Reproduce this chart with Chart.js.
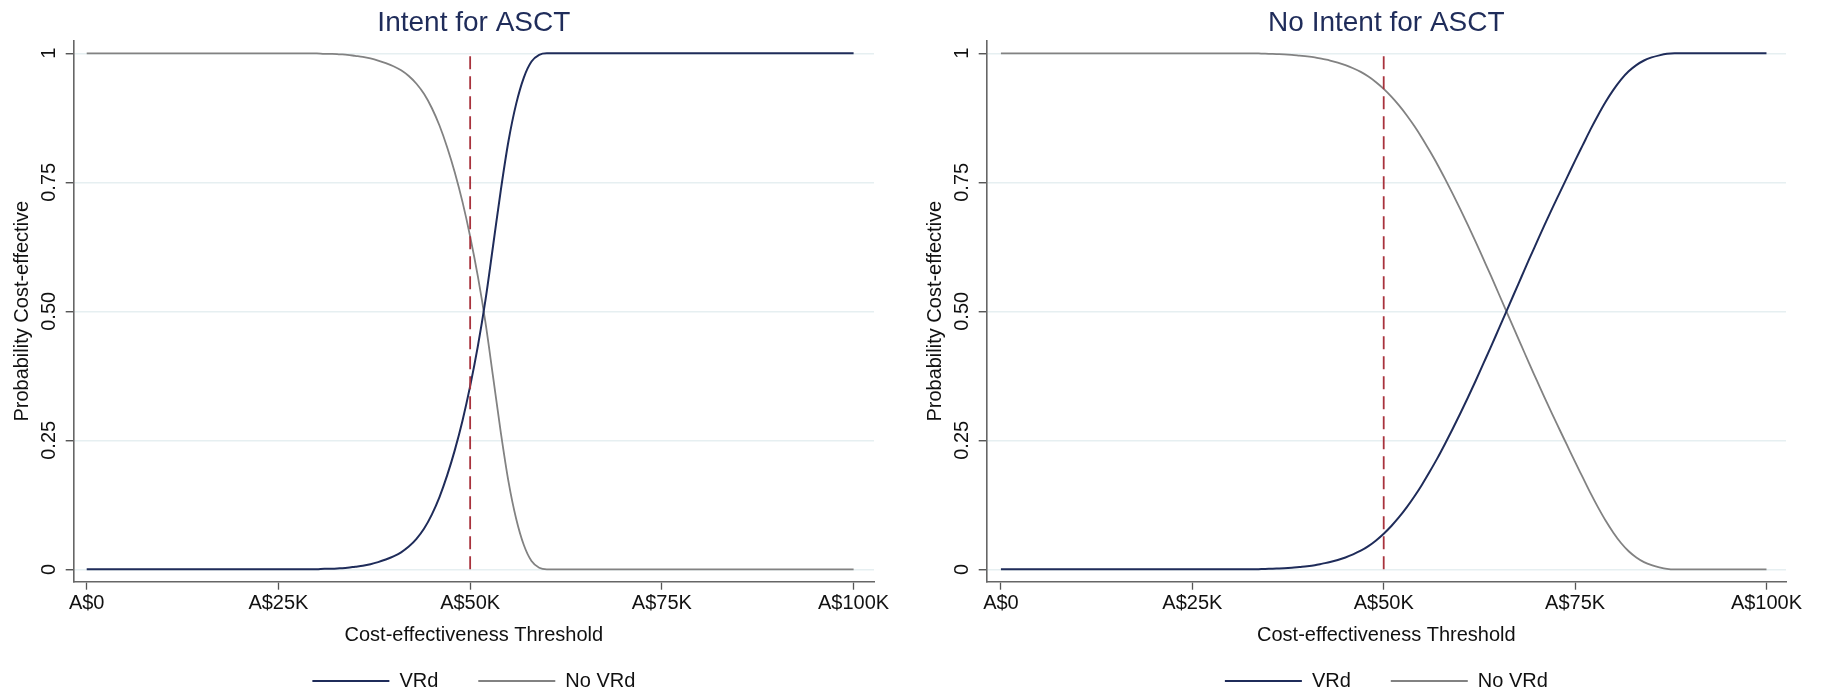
<!DOCTYPE html>
<html><head><meta charset="utf-8">
<script src="https://cdn.jsdelivr.net/npm/chart.js@4"></script>
<style>
html,body{margin:0;padding:0;background:#fff;overflow:hidden;width:1823px;height:696px;}
canvas{position:absolute;top:0;}
#c1{left:0;width:913px;height:696px;}
#c2{left:913px;width:910px;height:696px;}
</style></head><body>
<canvas id="c1" width="913" height="696"></canvas>
<canvas id="c2" width="910" height="696"></canvas>
<script>
// ---- data (thresholds in thousands of A$) ----
const panelTitles = ['Intent for ASCT', 'No Intent for ASCT'];
const seriesNames = ['VRd', 'No VRd'];
const xTickValues = [0, 25, 50, 75, 100];
const xTickLabels = ['A$0', 'A$25K', 'A$50K', 'A$75K', 'A$100K'];
const yTickValues = [0, 0.25, 0.5, 0.75, 1];
const yTickLabels = ['0', '0.25', '0.50', '0.75', '1'];
const referenceThreshold = 50;

const thresholdsIntent = [0,5,10,15,20,25,30,31,32,33,34,35,36,37,38,39,40,41,42,43,44,45,46,47,48,49,50,51,52,53,54,55,56,57,58,59,60,61,62,65,70,75,80,85,90,95,100];
const vrdIntent = [0,0,0,0,0,0,0,
  .001,.001,.002,.003,.005,.007,.010,.014,.019,.025,
  .033,.044,.059,.079,.106,.140,.182,.231,.288,.355,
  .432,.522,.628,.735,.830,.902,.953,.984,.997,1,
  1,1,1,1,1,1,1,1,1,1];
const noVrdIntent = [1,1,1,1,1,1,1,
  .999,.999,.998,.997,.995,.993,.990,.986,.981,.975,
  .967,.956,.941,.921,.894,.860,.818,.769,.712,.645,
  .568,.478,.372,.265,.170,.098,.047,.016,.003,0,
  0,0,0,0,0,0,0,0,0,0];

const thresholdsNoIntent = [0,5,10,15,20,25,30,
  31,32,33,34,35,36,37,38,39,40,
  41,42,43,44,45,46,47,48,49,50,
  51,52,53,54,55,56,57,58,59,60,
  61,62,63,64,65,66,67,68,69,70,
  71,72,73,74,75,76,77,78,79,80,
  81,82,83,84,85,86,87,88,89,90,
  95,100];
const vrdNoIntent = [0,0,0,0,0,0,0,
  0,0,0,.0005,.001,.0015,.002,.003,.0045,.006,
  .008,.011,.014,.018,.023,.029,.036,.045,.056,.069,
  .084,.101,.120,.141,.164,.189,.215,.243,.272,.302,
  .333,.365,.398,.431,.465,.499,.533,.567,.601,.634,
  .667,.699,.730,.761,.792,.822,.852,.880,.906,.929,
  .949,.965,.977,.986,.992,.996,.999,1,1,1,
  1,1];
const noVrdNoIntent = [1,1,1,1,1,1,1,
  1,1,1,.9995,.999,.9985,.998,.997,.9955,.994,
  .992,.989,.986,.982,.977,.971,.964,.955,.944,.931,
  .916,.899,.880,.859,.836,.811,.785,.757,.728,.698,
  .667,.635,.602,.569,.535,.501,.467,.433,.399,.366,
  .333,.301,.270,.239,.208,.178,.148,.120,.094,.071,
  .051,.035,.023,.014,.008,.004,.001,0,0,0,
  0,0];

// ---- styling ----
const FONT = "'Liberation Sans', Arial, Helvetica, sans-serif";
const NAVY = '#1f2c5a';
const GREY = '#828282';
const RED = '#a8323c';
Chart.defaults.font.family = FONT;
Chart.defaults.color = '#111';

function pts(xs, ys) { return xs.map((x, i) => ({x: x, y: ys[i]})); }

function makeChart(id, title, xs, vrd, novrd, xMin, xMax, padRight) {
  return new Chart(document.getElementById(id), {
    type: 'line',
    data: {
      datasets: [
        {label: seriesNames[0], data: pts(xs, vrd), borderColor: NAVY, backgroundColor: NAVY,
         borderWidth: 2, pointRadius: 0, cubicInterpolationMode: 'monotone', fill: false},
        {label: seriesNames[1], data: pts(xs, novrd), borderColor: GREY, backgroundColor: GREY,
         borderWidth: 1.8, pointRadius: 0, cubicInterpolationMode: 'monotone', fill: false},
        {label: '', data: [{x: referenceThreshold, y: 0}, {x: referenceThreshold, y: 1}],
         borderColor: RED, borderWidth: 1.8, borderDash: [13, 7], pointRadius: 0, fill: false, order: -1}
      ]
    },
    options: {
      responsive: false,
      animation: false,
      events: [],
      layout: {padding: {left: 0, right: padRight, top: 0, bottom: -5}},
      scales: {
        x: {
          type: 'linear', min: xMin, max: xMax,
          afterFit: (s) => { s.height = 49.3; },
          afterBuildTicks: (s) => { s.ticks = xTickValues.map(v => ({value: v})); },
          ticks: {padding: 2, font: {size: 20}, color: '#111', maxRotation: 0,
                  callback: (v, i) => xTickLabels[i]},
          grid: {drawOnChartArea: false, drawTicks: true, tickLength: 8, tickColor: '#555', tickWidth: 1.3},
          border: {display: true, color: '#666', width: 1.6},
          title: {display: true, text: 'Cost-effectiveness Threshold', font: {size: 20}, color: '#111',
                  padding: {top: 0, bottom: -16.2}}
        },
        y: {
          type: 'linear', min: -0.024, max: 1.0244,
          afterFit: (s) => { s.width = 73.7; },
          afterBuildTicks: (s) => { s.ticks = yTickValues.map(v => ({value: v})); },
          ticks: {padding: -3.6, font: {size: 20}, color: '#111', minRotation: 90, maxRotation: 90,
                  crossAlign: 'center', callback: (v, i) => yTickLabels[i]},
          grid: {color: '#e6eff1', lineWidth: 1.5, drawTicks: true, tickLength: 8, tickColor: '#444', tickWidth: 1.3},
          border: {display: true, color: '#666', width: 1.6},
          title: {display: true, text: 'Probability Cost-effective', font: {size: 20}, color: '#111',
                  padding: {top: 10, bottom: 0}}
        }
      },
      plugins: {
        title: {display: true, text: title, fullSize: false, color: NAVY,
                font: {size: 28, weight: 'normal'}, padding: {top: 6, bottom: 1.1}},
        legend: {
          display: true, position: 'bottom', fullSize: false,
          labels: {
            usePointStyle: true, pointStyle: 'line', pointStyleWidth: 77,
            padding: 40, font: {size: 20}, color: '#111',
            filter: (item) => item.datasetIndex < 2
          }
        },
        tooltip: {enabled: false}
      }
    }
  });
}

makeChart('c1', panelTitles[0], thresholdsIntent, vrdIntent, noVrdIntent, -1.695, 102.66, 39);
makeChart('c2', panelTitles[1], thresholdsNoIntent, vrdNoIntent, noVrdNoIntent, -1.86, 102.55, 37);
</script>
</body></html>
